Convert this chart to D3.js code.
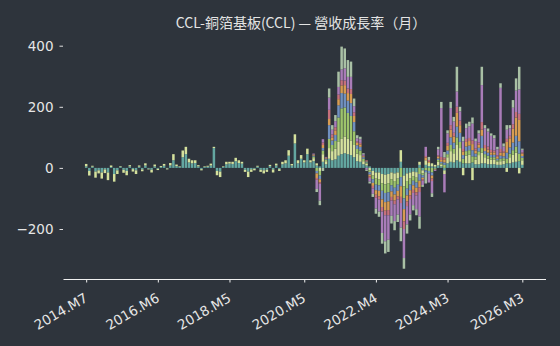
<!DOCTYPE html>
<html>
<head>
<meta charset="utf-8">
<script src="https://cdn.jsdelivr.net/npm/d3@7"></script>
<style>
    html, body { margin: 0; padding: 0; background: #2e343c; }
    svg { display: block; }
</style>
</head>
<body>
<div id="chart"></div>
<script>
// month categories: 2014.M7 .. 2026.M3
var monthCount = 141;
var months = [];
for (var i = 0; i < monthCount; i++) {
    var m = 6 + i;
    months.push((2014 + Math.floor(m / 12)) + ".M" + (m % 12 + 1));
}
var tickLabels = ["2014.M7", "2016.M6", "2018.M5", "2020.M5", "2022.M4", "2024.M3", "2026.M3"];
var yTicks = [-200, 0, 200, 400];

// series present for the whole period
var teal = [5, -10, 4, -12, -8, -15, -5, -15, 3, -20,
    -8, 4, -6, -10, 5, -4, -8, 4, -5, 8,
    -3, -6, 5, -3, 3, 7, -2, 8, 25, 6,
    3, 35, 45, 18, 15, 16, 5, -4, 3, 4,
    8, 65, -10, -12, 3, 12, 14, 13, 22, 16,
    14, -6, -12, -5, -3, 4, -6, -8, -6, 6,
    -5, 8, -4, 12, 15, 40, 8, 80, 15, 30,
    18, 45, 18,
    22, 8, 5, 20, 12, 30, 25, 28, 40, 45, 48, 45, 42, 35, 22, 20, 12, 8, 5, -10,
    -15, -15, -20, -22, -20, -15, -18, -15, 20, -25, -18, -15, -12, -14, 10, -8, 10, 6,
    5, 4, 8, 5, -8, 15, 20, 18, 25, 20, 15, 15, 15, 18, 12, 12, 15, 15, 12, 12,
    12, 10, 10, 12, 15, 15, 18, 20, 22, 10];
var yellow = [8, -15, 3, -20, -10, -20, -12, -25, 5, -25,
    -12, 2, -10, -14, 4, -8, -12, 4, -6, 7,
    -2, -9, 6, -4, 3, 6, -3, 8, 20, 5,
    2, 22, 24, 12, 10, 9, 4, -4, 2, 3,
    6, 4, -14, -18, 2, 8, 6, 7, 11, 9,
    6, -7, -18, -8, -5, 3, -7, -10, -7, 4,
    -10, 6, -6, 8, 10, 18, 5, 30, 10, 12,
    7, 18, 7,
    10, 7, -10, 25, 10, 35, 30, 35, 45, 50, 55, 50, 48, 40, 25, 22, 10, 6, -8, -15,
    -20, -22, -30, -32, -30, -22, -25, -20, 38, -35, -25, -20, -15, -18, 10, -10, 15, 10,
    10, 6, 12, 6, -12, 20, 35, 30, 50, 45, -24, 25, 28, -40, 15, 30, 35, 20, 18, 15,
    15, 10, 12, 12, -13, 20, 25, 30, -18, 15];

// series that start in 2020.M8
var lateStart = "2020.M8";
var green = [5, -10, -15, 12, 5, 30, 20, 25, 80, 100, 95, 85, 80, 45, 15, 15, 8, 4, -6, -12,
    -20, -20, -25, -28, -30, -20, -22, -20, -30, -40, -25, -20, -15, -16, -20, -6, -8, -10,
    -15, -3, 6, 4, 10, 10, 20, 15, 25, 20, 15, 15, 15, 20, 10, 12, 15, 10, 10, 8,
    8, 5, 8, 8, 15, 12, 15, 20, 25, 8];
var blue = [3, -8, -12, 8, 3, 45, 15, 20, 40, 50, 45, 40, 42, 30, 12, 12, 5, 3, -8, -12,
    -18, -18, -28, -30, -30, -20, -22, -20, -30, -35, -22, -18, -15, -17, -22, -8, -6, -8,
    -10, -2, 5, 5, 8, 12, 25, 20, 35, 30, 12, 15, 15, 20, 10, 12, 40, 10, 10, 8,
    8, 5, 10, 6, 20, 20, 25, 35, 40, 6];
var orange = [4, -15, -10, 10, 2, 20, 10, 15, 20, 25, 28, 25, 30, 20, 8, 8, 3, 2, -6, -10,
    -15, -18, -25, -28, -28, -18, -20, -18, -35, -40, -20, -17, -15, -15, -22, -5, 9, 5,
    -10, -2, 6, 6, 10, 15, 25, 20, 45, 25, 12, 15, 15, 20, 10, 10, 20, 10, 10, 8,
    8, 6, 10, 12, 35, 30, 45, 60, 70, 8];
var rose = [0, -6, -5, 8, 2, 30, 10, 10, 15, 17, 15, 15, 16, 12, 5, 5, 2, 2, -5, -8,
    -10, -10, -15, -15, -17, -12, -12, -10, -20, -25, -15, -12, -10, -10, -15, -5, 5, 5,
    -8, 0, 4, 10, 6, 10, 15, 12, 20, 15, 8, 10, 10, 12, 6, 7, 25, 10, 10, 8,
    6, 5, 12, 5, 10, 8, 15, 18, 20, 4];
var purple = [3, -30, -55, 11, 2, 40, 15, 20, 25, 35, 40, 38, 40, 20, 10, 12, 5, -6, -12, -18,
    -35, -40, -70, -85, -80, -50, -55, -50, -80, -95, -60, -50, -40, -45, -80, -14, 30, -30,
    -40, -3, 20, 160, -60, 31, 56, 37, 50, 30, 25, 35, 38, 55, 25, 30, 121, 55, 49, 46,
    40, 20, 200, 15, 30, 25, 54, 70, 80, 8];
var gray = [0, -10, -15, -10, 0, 30, 15, 20, 50, 75, 65, 55, 50, 25, 10, 8, 3, -4, -6, -10,
    -17, -17, -35, -40, -40, -25, -30, -24, -45, -35, -30, -20, -17, -20, -40, -6, -37, 10,
    -12, 0, 8, 20, 18, 10, 20, 15, 81, 15, 15, 15, 15, 20, 8, 10, 60, 10, 10, 8,
    10, 8, 15, 10, 15, 10, 25, 40, 74, 4];

var keys = ["teal", "yellow", "green", "blue", "orange", "rose", "purple", "gray"];
var colors = ["#63a6a0", "#d5e19d", "#9dc46b", "#7090c0", "#d89c52", "#c6707c", "#a97cb8", "#a9c0a5"];
var late = { green: green, blue: blue, orange: orange, rose: rose, purple: purple, gray: gray };

// build the table d3.stack wants
var lateIndex = months.indexOf(lateStart);
var table = months.map(function (mo, i) {
    var row = { idx: i, month: mo, teal: teal[i], yellow: yellow[i] };
    Object.keys(late).forEach(function (k) {
        row[k] = i >= lateIndex ? late[k][i - lateIndex] : 0;
    });
    return row;
});

var W = 560, H = 346;
var svg = d3.select("#chart").append("svg")
    .attr("width", W)
    .attr("height", H)
    .style("background", "#2e343c");

var x = d3.scaleLinear().domain([-7.44, 147.44]).range([63, 545.5]);
var y = d3.scaleLinear().domain([-362, 436]).range([278.5, 34.7]);

var stack = d3.stack().keys(keys).offset(d3.stackOffsetDiverging);
var layers = stack(table);

svg.append("g")
    .selectAll("g")
    .data(layers)
    .join("g")
    .attr("fill", function (d, i) { return colors[i]; })
    .selectAll("rect")
    .data(function (d) { return d; })
    .join("rect")
    .attr("x", function (d) { return x(d.data.idx - 0.4); })
    .attr("width", x(0.8) - x(0))
    .attr("y", function (d) { return y(Math.max(d[0], d[1])); })
    .attr("height", function (d) { return Math.abs(y(d[0]) - y(d[1])); });

// title
svg.append("text")
    .attr("x", 301)
    .attr("y", 28)
    .attr("text-anchor", "middle")
    .attr("fill", "#e4e4e4")
    .style("font-family", "'Noto Sans CJK TC', 'Noto Sans', sans-serif")
    .style("font-size", "14px")
    .text("CCL-銅箔基板(CCL) — 營收成長率（月）");

// y axis (no spine)
var yAxis = svg.append("g")
    .attr("transform", "translate(63,0)")
    .call(d3.axisLeft(y).tickValues(yTicks).tickSize(3.5).tickPadding(6)
        .tickFormat(function (d) { return d < 0 ? "\u2212" + Math.abs(d) : d; }));
yAxis.select(".domain").remove();
yAxis.selectAll("line").attr("stroke", "#e0e0e0");
yAxis.selectAll("text").attr("fill", "#e6e6e6")
    .style("font-family", "'DejaVu Sans', sans-serif").style("font-size", "13.5px");

// x axis
var tickIdx = tickLabels.map(function (t) { return months.indexOf(t); });
var xAxis = svg.append("g")
    .attr("transform", "translate(0,279)")
    .call(d3.axisBottom(x).tickValues(tickIdx).tickSize(3.5).tickSizeOuter(0)
        .tickFormat(function (d) { return months[d]; }));
xAxis.select(".domain").attr("stroke", "#f0f0f0").attr("stroke-width", 1.1);
xAxis.selectAll("line").attr("stroke", "#f0f0f0");
xAxis.selectAll("text")
    .attr("fill", "#e6e6e6")
    .style("font-family", "'DejaVu Sans', sans-serif")
    .style("font-size", "13.5px")
    .attr("text-anchor", "end")
    .attr("dy", "0.75em")
    .attr("y", 0)
    .attr("x", 0)
    .attr("transform", "translate(-3,13) rotate(-30)");
</script>
</body>
</html>
